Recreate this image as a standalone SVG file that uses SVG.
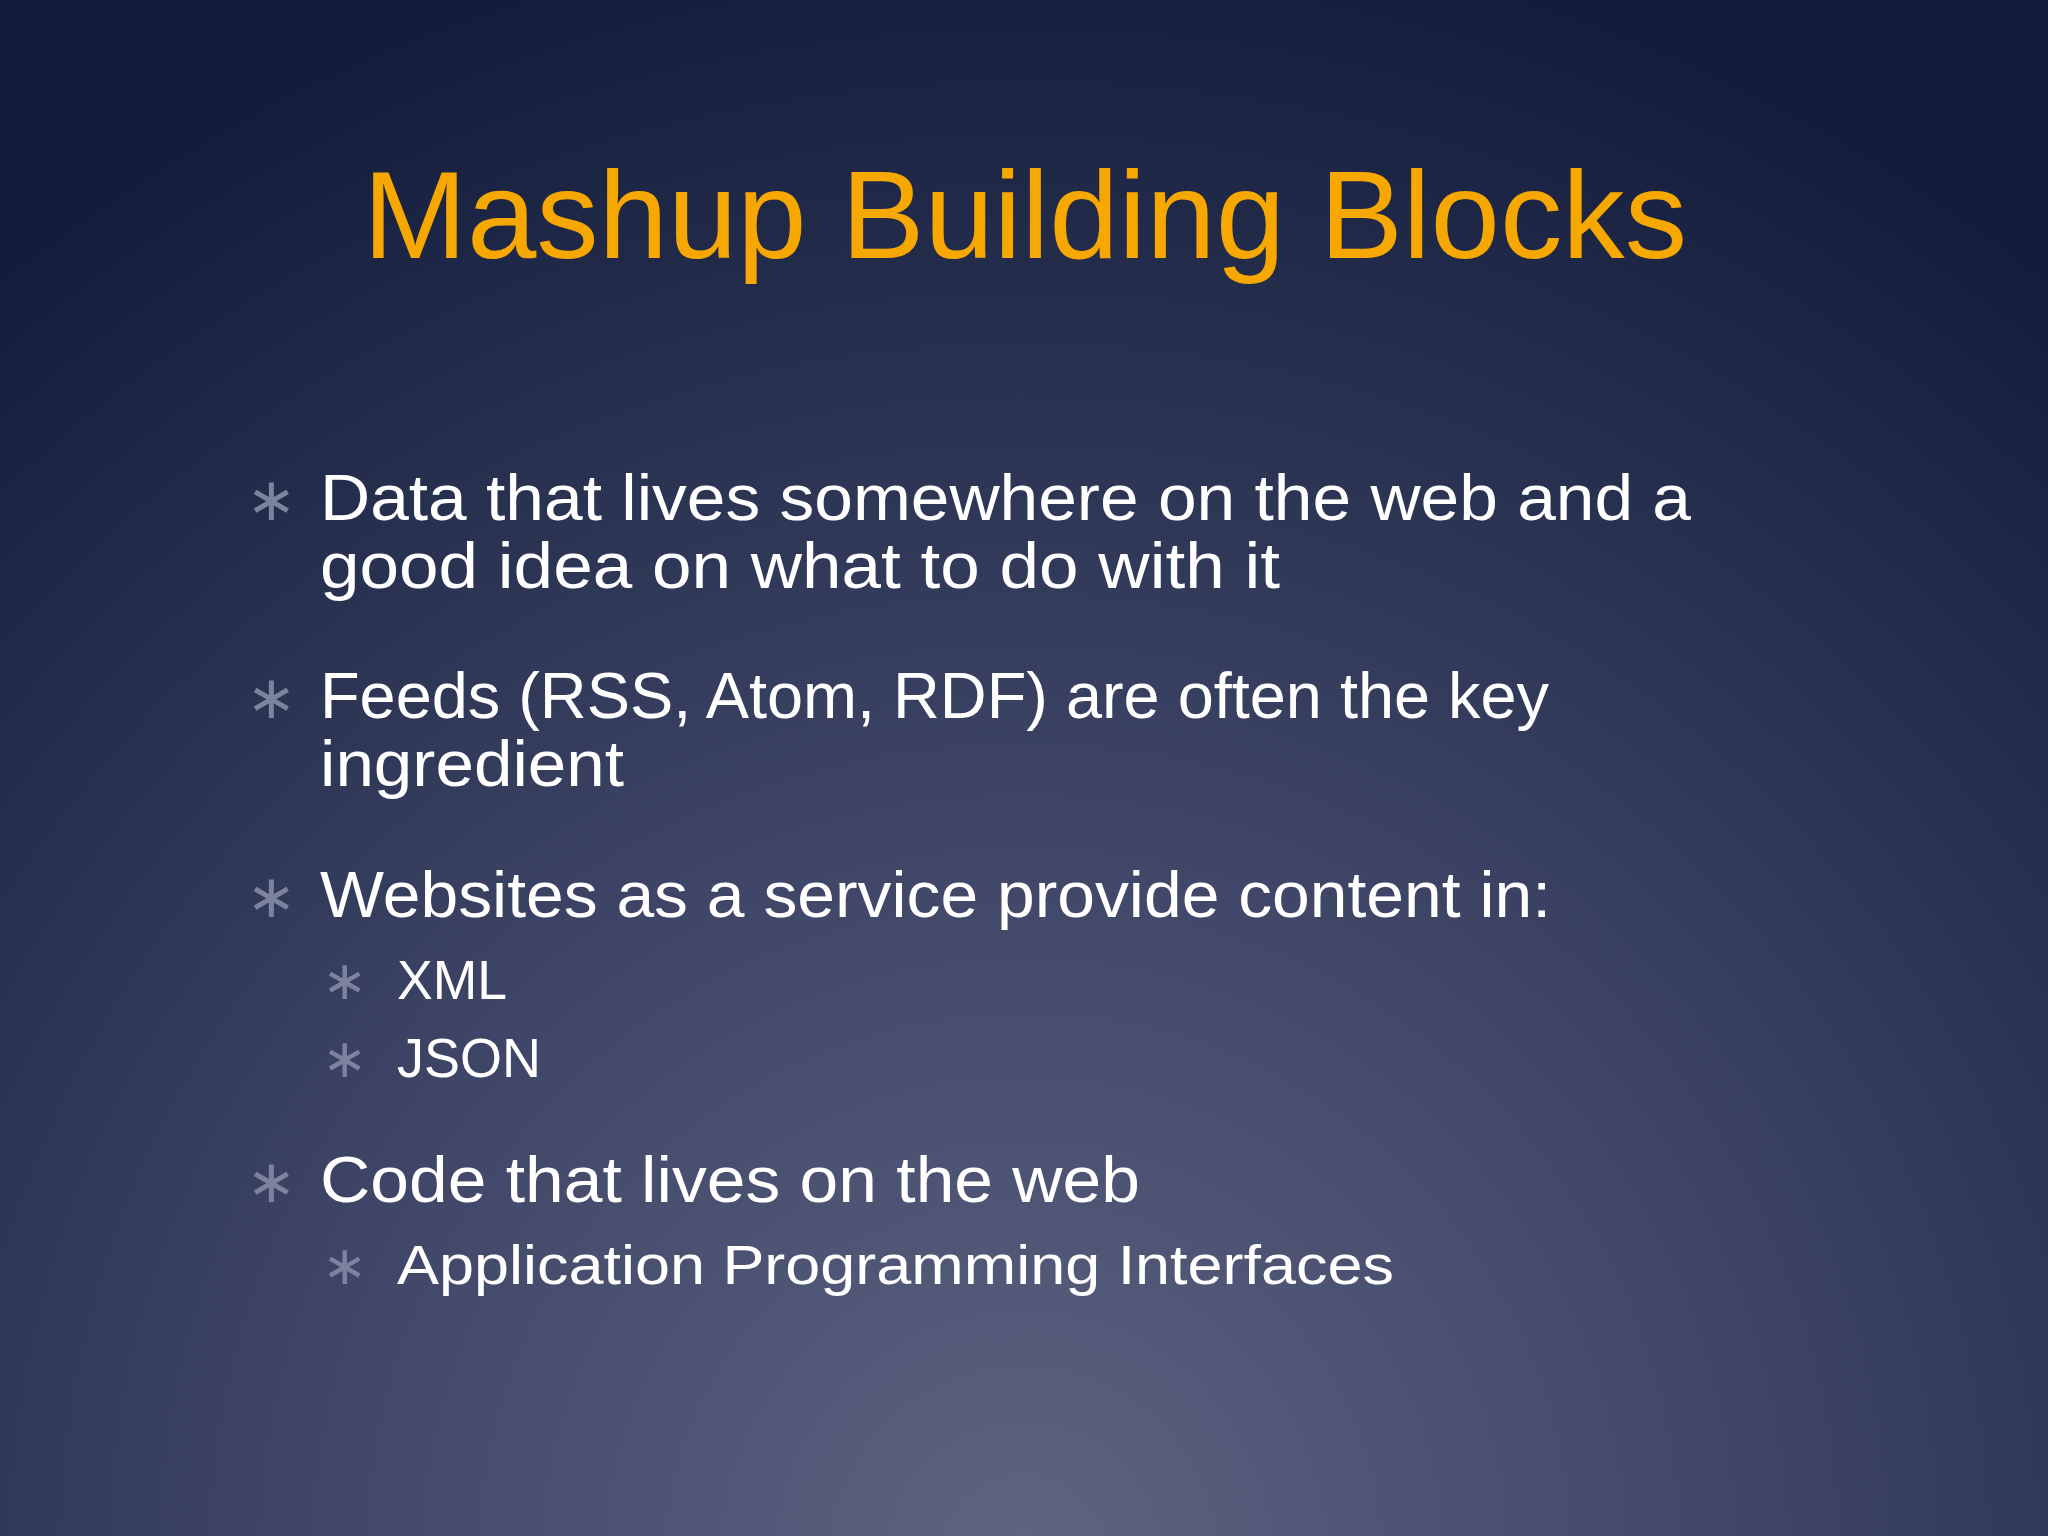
<svg xmlns="http://www.w3.org/2000/svg" width="2048" height="1536" viewBox="0 0 2048 1536">
<defs>
<radialGradient id="bg" cx="1024" cy="1560" r="1650" gradientUnits="userSpaceOnUse">
<stop offset="0" stop-color="#5e6582"/>
<stop offset="0.45" stop-color="#3e4566"/>
<stop offset="1" stop-color="#131c3a"/>
</radialGradient>
<style>
.t{font-family:"Liberation Sans","DejaVu Sans",sans-serif;fill:#ffffff;}
.b{font-size:64px;}
.s{font-size:55px;}
.st{font-family:"DejaVu Sans",sans-serif;fill:#7c839f;}
</style>
</defs>
<rect width="2048" height="1536" fill="url(#bg)"/>
<text id="title" x="363" y="258" textLength="1324" lengthAdjust="spacingAndGlyphs" style="font-family:'Liberation Sans',sans-serif;font-size:124px;fill:#f6a800">Mashup Building Blocks</text>
<g id="b1">
<text class="st" x="246" y="520" font-size="60">∗</text>
<text class="t b" x="320" y="520" textLength="1371" lengthAdjust="spacingAndGlyphs">Data that lives somewhere on the web and a</text>
<text class="t b" x="320" y="588" textLength="960" lengthAdjust="spacingAndGlyphs">good idea on what to do with it</text>
</g>
<g id="b2">
<text class="st" x="246" y="718" font-size="60">∗</text>
<text class="t b" x="320" y="718" textLength="1229" lengthAdjust="spacingAndGlyphs">Feeds (RSS, Atom, RDF) are often the key</text>
<text class="t b" x="320" y="786" textLength="304" lengthAdjust="spacingAndGlyphs">ingredient</text>
</g>
<g id="b3">
<text class="st" x="246" y="917" font-size="60">∗</text>
<text class="t b" x="320" y="917" textLength="1231" lengthAdjust="spacingAndGlyphs">Websites as a service provide content in:</text>
<text class="st" x="322" y="999" font-size="54">∗</text>
<text class="t s" x="397" y="999" textLength="110" lengthAdjust="spacingAndGlyphs">XML</text>
<text class="st" x="322" y="1077" font-size="54">∗</text>
<text class="t s" x="397" y="1077" textLength="144" lengthAdjust="spacingAndGlyphs">JSON</text>
</g>
<g id="b4">
<text class="st" x="246" y="1202" font-size="60">∗</text>
<text class="t b" x="320" y="1202" textLength="820" lengthAdjust="spacingAndGlyphs">Code that lives on the web</text>
<text class="st" x="322" y="1284" font-size="54">∗</text>
<text class="t s" x="397" y="1284" textLength="997" lengthAdjust="spacingAndGlyphs">Application Programming Interfaces</text>
</g>
<g id="connectors"/>
</svg>
